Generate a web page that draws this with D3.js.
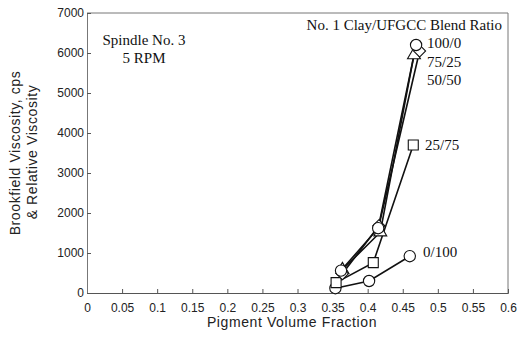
<!DOCTYPE html>
<html>
<head>
<meta charset="utf-8">
<script src="https://d3js.org/d3.v7.min.js"></script>
<style>
  body { margin: 0; background: #fff; }
  .tick text { font-family: "Liberation Sans", Arial, sans-serif; font-size: 12px; fill: #222; }
  .axis-label { font-family: "Liberation Sans", Arial, sans-serif; font-size: 14px; fill: #222; }
  .note { font-family: "Liberation Serif", "Times New Roman", serif; font-size: 15px; fill: #111; }
</style>
</head>
<body>
<div id="chart"></div>
<script>
// data
var xTicks = [0, 0.05, 0.1, 0.15, 0.2, 0.25, 0.3, 0.35, 0.4, 0.45, 0.5, 0.55, 0.6];
var yTicks = [0, 1000, 2000, 3000, 4000, 5000, 6000, 7000];

var blend100_0 = [[0.362, 560], [0.415, 1620], [0.469, 6200]];
var blend75_25 = [[0.364, 480], [0.416, 1680], [0.474, 6050]];
var blend50_50 = [[0.364, 580], [0.418, 1520], [0.466, 5950]];
var blend25_75 = [[0.355, 260], [0.408, 760], [0.465, 3700]];
var blend0_100 = [[0.354, 120], [0.402, 300], [0.46, 920]];

var seriesNames = ["100/0", "75/25", "50/50", "25/75", "0/100"];
var seriesShapes = ["circle", "diamond", "triangle", "square", "circle"];

var W = 519, H = 340;
var margin = { left: 87, right: 12, top: 13, bottom: 47 };

var svg = d3.select("#chart").append("svg")
  .attr("width", W).attr("height", H);

var x = d3.scaleLinear().domain([0, 0.6]).range([margin.left, 508]);
var y = d3.scaleLinear().domain([0, 7000]).range([H - margin.bottom, margin.top]);

// frame (top and right), light like the scan
svg.append("path")
  .attr("d", "M" + x(0) + "," + y(7000) + "H" + x(0.6) + "V" + y(0))
  .attr("fill", "none").attr("stroke", "#777").attr("stroke-width", 1);

// x axis
var xAxis = svg.append("g")
  .attr("transform", "translate(0," + y(0) + ")")
  .call(d3.axisBottom(x).tickValues(xTicks).tickSize(-4).tickPadding(10)
    .tickFormat(function(d) { return d === 0 ? "0" : String(d); }));
xAxis.select(".domain").attr("stroke", "#555");
xAxis.selectAll(".tick line").attr("stroke", "#555");

// y axis
var yAxis = svg.append("g")
  .attr("transform", "translate(" + x(0) + ",0)")
  .call(d3.axisLeft(y).tickValues(yTicks).tickSize(-4).tickPadding(3)
    .tickFormat(d3.format("d")));
yAxis.select(".domain").attr("stroke", "#777");
yAxis.selectAll(".tick line").attr("stroke", "#555");

// axis titles
svg.append("text").attr("class", "axis-label")
  .attr("text-anchor", "middle")
  .attr("x", 292).attr("y", 327)
  .style("letter-spacing", "0.6px")
  .text("Pigment Volume Fraction");

svg.append("text").attr("class", "axis-label")
  .attr("text-anchor", "middle")
  .attr("transform", "translate(20,153) rotate(-90)")
  .style("letter-spacing", "0.6px")
  .text("Brookfield Viscosity, cps");
svg.append("text").attr("class", "axis-label")
  .attr("text-anchor", "middle")
  .attr("transform", "translate(37,152) rotate(-90)")
  .style("letter-spacing", "0.6px")
  .text("& Relative Viscosity");

// annotations
svg.append("text").attr("class", "note").attr("text-anchor", "middle")
  .attr("x", 144).attr("y", 45).text("Spindle No. 3");
svg.append("text").attr("class", "note").attr("text-anchor", "middle")
  .attr("x", 144).attr("y", 63).text("5 RPM");
svg.append("text").attr("class", "note").attr("text-anchor", "end")
  .attr("x", 502).attr("y", 30).text("No. 1 Clay/UFGCC Blend Ratio");

var allSeries = [blend100_0, blend75_25, blend50_50, blend25_75, blend0_100];

var line = d3.line().x(function(d) { return x(d[0]); }).y(function(d) { return y(d[1]); });

allSeries.forEach(function(s) {
  svg.append("path").datum(s)
    .attr("d", line)
    .attr("fill", "none").attr("stroke", "#111").attr("stroke-width", 1.6);
});

var symbols = {
  circle: d3.symbol().type(d3.symbolCircle).size(100),
  diamond: d3.symbol().type(d3.symbolSquare).size(72),
  triangle: d3.symbol().type(d3.symbolTriangle).size(72),
  square: d3.symbol().type(d3.symbolSquare).size(100)
};

// draw bottom series first so the top ones sit above
for (var i = allSeries.length - 1; i >= 0; i--) {
  var shape = seriesShapes[i];
  svg.selectAll(null).data(allSeries[i]).enter().append("path")
    .attr("d", symbols[shape])
    .attr("transform", function(d) {
      var t = "translate(" + x(d[0]) + "," + y(d[1]) + ")";
      return shape === "diamond" ? t + " rotate(45)" : t;
    })
    .attr("fill", "#fff").attr("stroke", "#111").attr("stroke-width", 1.1);
}

// series labels
var labelPos = [[427, 48], [427, 67], [427, 85], [425, 150], [423, 257]];
seriesNames.forEach(function(name, i) {
  svg.append("text").attr("class", "note")
    .attr("x", labelPos[i][0]).attr("y", labelPos[i][1])
    .text(name);
});
</script>
</body>
</html>
